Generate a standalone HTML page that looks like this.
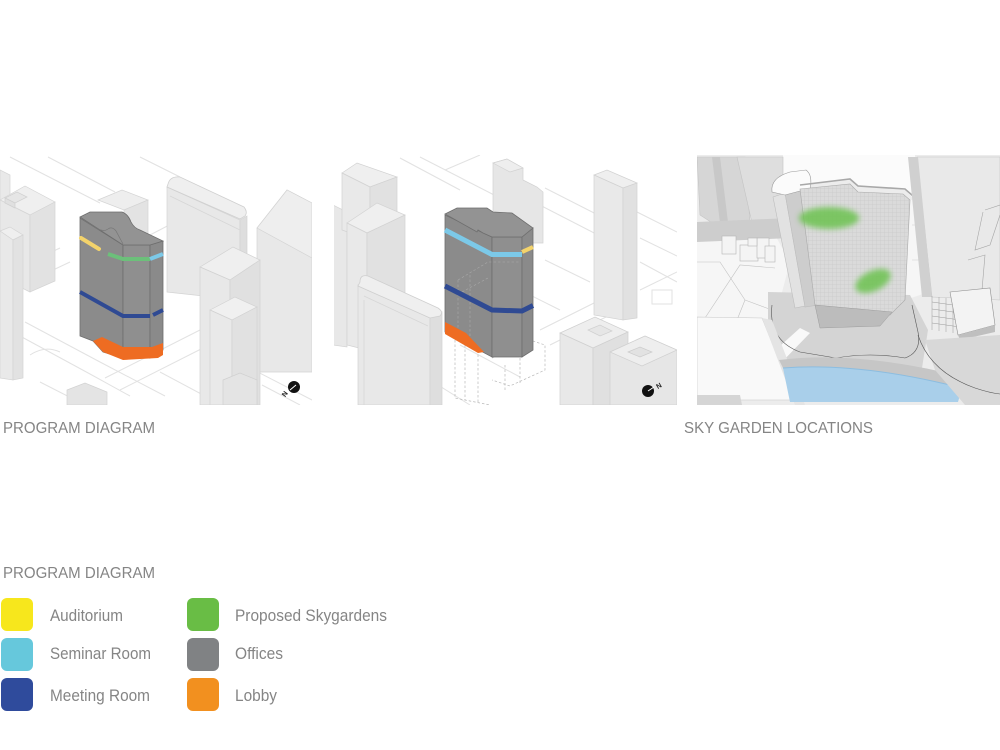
<!DOCTYPE html>
<html><head><meta charset="utf-8"><style>
html,body{margin:0;padding:0;background:#fff;}
svg{display:block;}
text{font-family:"Liberation Sans",sans-serif;fill:#858585;}
</style></head><body>
<svg width="1000" height="750" viewBox="0 0 1000 750" xmlns="http://www.w3.org/2000/svg">
<defs>
<clipPath id="c1"><rect x="0" y="155" width="312" height="250"/></clipPath>
<clipPath id="c2"><rect x="334" y="155" width="343" height="250"/></clipPath>
<clipPath id="c3"><rect x="697" y="155" width="303" height="250"/></clipPath>
<pattern id="grid" width="4" height="4" patternUnits="userSpaceOnUse">
<rect width="4" height="4" fill="#dadada"/>
<path d="M0 0H4M0 0V4" stroke="#c4c4c4" stroke-width="0.5"/>
</pattern>
<filter id="bl" x="-50%" y="-50%" width="200%" height="200%"><feGaussianBlur stdDeviation="3"/></filter>
</defs>

<!-- PANEL 1 -->
<g clip-path="url(#c1)">
<g stroke="#e2e2e2" stroke-width="1" fill="none">
<path d="M10,157 L100,203"/><path d="M48,157 L115,192"/><path d="M140,157 L180,177"/>
<path d="M60,248 L0,276"/><path d="M70,262 L0,295"/>
<path d="M25,322 L100,362 L165,396"/><path d="M20,336 L90,374 L130,396"/>
<path d="M40,382 L85,405"/><path d="M105,378 L200,330"/><path d="M120,390 L205,347"/>
<path d="M160,372 L205,396"/><path d="M250,368 L312,400"/><path d="M262,385 L300,405"/>
<path d="M150,235 L175,222"/><path d="M30,355 Q45,345 60,352"/>
<path d="M245,345 L312,312"/><path d="M250,330 L312,300"/>
</g>
<polygon points="0,170 10,175 10,228 0,228" fill="#e9e9e9" stroke="#d6d6d6" stroke-width="0.7"/>
<polygon points="0,200 25,186 55,202 30,215" fill="#efefef" stroke="#d4d4d4" stroke-width="0.7"/>
<polygon points="0,200 30,215 30,292 0,277" fill="#e8e8e8" stroke="#d4d4d4" stroke-width="0.7"/>
<polygon points="30,215 55,202 55,281 30,292" fill="#e2e2e2" stroke="#d4d4d4" stroke-width="0.7"/>
<polygon points="5,198 17,192 27,197 15,203" fill="#e6e6e6" stroke="#d0d0d0" stroke-width="0.7"/>
<polygon points="5,198 15,203 15,208 5,203" fill="#e0e0e0" stroke="#d0d0d0" stroke-width="0.7"/>
<polygon points="0,231 10,227 23,235 13,240" fill="#efefef" stroke="#d4d4d4" stroke-width="0.7"/>
<polygon points="0,231 13,240 13,380 0,378" fill="#e9e9e9" stroke="#d4d4d4" stroke-width="0.7"/>
<polygon points="13,240 23,235 23,378 13,380" fill="#e2e2e2" stroke="#d4d4d4" stroke-width="0.7"/>
<polygon points="98,200 122,190 148,200 124,210" fill="#eeeeee" stroke="#d4d4d4" stroke-width="0.7"/>
<polygon points="124,210 148,200 148,260 124,270" fill="#e3e3e3" stroke="#d4d4d4" stroke-width="0.7"/>
<polygon points="167,187 240,220 240,300 167,292" fill="#e8e8e8" stroke="#d4d4d4" stroke-width="0.7"/>
<polygon points="240,220 247,216 247,300 240,300" fill="#dedede" stroke="#d4d4d4" stroke-width="0.7"/>
<path d="M168,184 Q170,176 180,177 L244,207 Q248,212 245,216 L240,219 L167,187 Z" fill="#efefef" stroke="#d0d0d0" stroke-width="0.8"/>
<path d="M170,196 L240,230" stroke="#d6d6d6" stroke-width="0.8"/>
<polygon points="257,228 287,190 312,203 312,372 257,372" fill="#e8e8e8" stroke="#d4d4d4" stroke-width="0.7"/>
<polygon points="257,228 287,190 312,203 312,258" fill="#eeeeee" stroke="#d4d4d4" stroke-width="0.7"/>
<polygon points="200,267 233,247 260,260 230,280" fill="#efefef" stroke="#d2d2d2" stroke-width="0.7"/>
<polygon points="200,267 230,280 230,405 200,405" fill="#e8e8e8" stroke="#d2d2d2" stroke-width="0.7"/>
<polygon points="230,280 260,260 260,405 230,405" fill="#e0e0e0" stroke="#d2d2d2" stroke-width="0.7"/>
<polygon points="210,310 235,297 257,307 232,320" fill="#f0f0f0" stroke="#d2d2d2" stroke-width="0.7"/>
<polygon points="210,310 232,320 232,405 210,405" fill="#e9e9e9" stroke="#d2d2d2" stroke-width="0.7"/>
<polygon points="232,320 257,307 257,405 232,405" fill="#e1e1e1" stroke="#d2d2d2" stroke-width="0.7"/>
<polygon points="223,380 240,373 257,380 257,405 223,405" fill="#e4e4e4" stroke="#d0d0d0" stroke-width="0.7"/>
<polygon points="67,390 85,383 107,392 107,405 67,405" fill="#e4e4e4" stroke="#d2d2d2" stroke-width="0.7"/>
<!-- MAIN BUILDING 1 -->
<polygon points="80,218 123,245 123,358 103,352 93,341 80,336" fill="#8b8b8b" stroke="#6e6e6e" stroke-width="0.8"/>
<polygon points="123,245 150,245 150,358 123,358" fill="#8f8f8f" stroke="#6e6e6e" stroke-width="0.8"/>
<polygon points="150,245 163,241 163,350 150,358" fill="#8a8a8a" stroke="#6e6e6e" stroke-width="0.8"/>
<path d="M80,217 L90,212 L122,212 Q128,214 131,222 Q134,228 140,230 L163,241 L150,245 L123,245 Z" fill="#939393" stroke="#6e6e6e" stroke-width="0.8"/>
<path d="M82,219 L98,229 Q104,232 108,229 Q112,226 116,231 L123,244" stroke="#777" stroke-width="0.7" fill="none"/>
<path d="M81,238 L99,249" stroke="#f3d36b" stroke-width="4" stroke-linecap="round"/>
<path d="M108,254 L123,259 L150,259" stroke="#6cc07a" stroke-width="4" fill="none"/>
<path d="M150,259 L163,254" stroke="#7cc9e8" stroke-width="4"/>
<path d="M80,292 L123,316 L150,316" stroke="#2f4a93" stroke-width="4" fill="none"/>
<path d="M153,315 L163,310" stroke="#2f4a93" stroke-width="4"/>
<polygon points="93,341 102,337 123,347 152,347 163,343 163,355 158,358 123,360 103,352" fill="#ee6c22"/>
<circle cx="294" cy="387" r="6" fill="#111"/>
<path d="M290,390 L296,385" stroke="#fff" stroke-width="1"/>
<text x="282" y="397" font-size="7" font-weight="bold" transform="rotate(-55 284 394)" style="fill:#222">N</text>
</g>

<!-- PANEL 2 -->
<g clip-path="url(#c2)">
<g stroke="#e2e2e2" stroke-width="1" fill="none">
<path d="M400,158 L460,190"/><path d="M420,157 L500,198"/><path d="M530,200 L600,236"/>
<path d="M545,188 L600,216"/><path d="M637,212 L677,232"/><path d="M640,238 L677,256"/>
<path d="M640,262 L677,282"/><path d="M490,275 L560,310"/><path d="M545,260 L590,282"/>
<path d="M460,345 L520,377"/><path d="M540,330 L600,300"/><path d="M550,345 L610,315"/>
<path d="M640,290 L677,272"/><path d="M445,170 L480,155"/><path d="M430,380 L470,405"/>
<rect x="652" y="290" width="20" height="14"/><rect x="600" y="255" width="30" height="16" transform="rotate(25 615 263)"/>
</g>
<polygon points="333,205 347,212 347,347 333,345" fill="#e8e8e8" stroke="#d4d4d4" stroke-width="0.7"/>
<polygon points="342,173 357,163 397,177 370,187" fill="#efefef" stroke="#d2d2d2" stroke-width="0.7"/>
<polygon points="342,173 370,187 370,240 342,230" fill="#e9e9e9" stroke="#d2d2d2" stroke-width="0.7"/>
<polygon points="370,187 397,177 397,230 370,240" fill="#e1e1e1" stroke="#d2d2d2" stroke-width="0.7"/>
<polygon points="347,223 377,203 405,215 367,233" fill="#efefef" stroke="#d2d2d2" stroke-width="0.7"/>
<polygon points="347,223 367,233 367,350 347,345" fill="#e9e9e9" stroke="#d2d2d2" stroke-width="0.7"/>
<polygon points="367,233 405,215 405,340 367,350" fill="#e1e1e1" stroke="#d2d2d2" stroke-width="0.7"/>
<polygon points="493,163 507,159 523,168 523,180 537,187 543,192 543,243 493,243" fill="#e6e6e6" stroke="#d2d2d2" stroke-width="0.7"/>
<polygon points="493,163 507,159 523,168 510,172" fill="#eeeeee" stroke="#d2d2d2" stroke-width="0.7"/>
<polygon points="358,285 430,318 430,405 358,405" fill="#e8e8e8" stroke="#d2d2d2" stroke-width="0.7"/>
<polygon points="430,318 442,312 442,405 430,405" fill="#dedede" stroke="#d2d2d2" stroke-width="0.7"/>
<path d="M360,282 Q360,274 368,276 L438,308 Q444,312 440,316 L430,318 L358,286 Z" fill="#efefef" stroke="#cfcfcf" stroke-width="0.8"/>
<path d="M364,296 L428,326 M364,300 L364,405" stroke="#d6d6d6" stroke-width="0.8" fill="none"/>
<polygon points="594,175 607,170 637,183 623,188" fill="#efefef" stroke="#d2d2d2" stroke-width="0.7"/>
<polygon points="594,175 623,188 623,320 594,315" fill="#e9e9e9" stroke="#d2d2d2" stroke-width="0.7"/>
<polygon points="623,188 637,183 637,318 623,320" fill="#e1e1e1" stroke="#d2d2d2" stroke-width="0.7"/>
<polygon points="560,333 595,317 628,332 593,348" fill="#eeeeee" stroke="#d0d0d0" stroke-width="0.7"/>
<polygon points="560,333 593,348 593,405 560,405" fill="#e8e8e8" stroke="#d0d0d0" stroke-width="0.7"/>
<polygon points="593,348 628,332 628,405 593,405" fill="#e0e0e0" stroke="#d0d0d0" stroke-width="0.7"/>
<polygon points="588,330 600,325 612,331 600,336" fill="#e6e6e6" stroke="#d0d0d0" stroke-width="0.7"/>
<polygon points="610,352 645,336 677,350 677,405 610,405" fill="#e6e6e6" stroke="#d0d0d0" stroke-width="0.7"/>
<polygon points="610,352 645,336 677,350 642,366" fill="#eeeeee" stroke="#d0d0d0" stroke-width="0.7"/>
<polygon points="628,352 640,347 652,352 640,357" fill="#e2e2e2" stroke="#cccccc" stroke-width="0.7"/>
<g stroke="#b9b9b9" stroke-width="0.7" fill="none" stroke-dasharray="2.5,2">
<path d="M455,340 L455,398 L490,405"/><path d="M465,345 L465,400"/><path d="M478,350 L478,402"/>
<path d="M492,358 L530,340 L545,345 L545,370 L510,386 L492,380"/>
<path d="M505,365 L505,390 M520,358 L520,384"/>
</g>
<polygon points="445,215 492,237 492,357 445,332" fill="#8b8b8b" stroke="#6e6e6e" stroke-width="0.8"/>
<polygon points="492,237 522,237 522,357 492,357" fill="#8f8f8f" stroke="#6e6e6e" stroke-width="0.8"/>
<polygon points="522,237 533,228 533,350 522,357" fill="#8a8a8a" stroke="#6e6e6e" stroke-width="0.8"/>
<path d="M445,214 L457,208 L487,208 L493,212 L512,213 L533,228 L522,237 L492,237 L483,233 L478,230 L477,232 Z" fill="#939393" stroke="#6e6e6e" stroke-width="0.8"/>
<g stroke="#a9a9a9" stroke-width="0.6" fill="none" stroke-dasharray="2.5,2">
<path d="M458,280 L488,262 L520,262"/><path d="M458,280 L458,340"/><path d="M470,275 L470,345"/><path d="M462,292 L488,278"/>
</g>
<path d="M445,230 L492,254.5 L522,254.5" stroke="#7cc9e8" stroke-width="5" fill="none"/>
<path d="M522,252 L533,247" stroke="#f3d36b" stroke-width="4"/>
<path d="M445,286 L492,310 L522,311 L533,305.5" stroke="#2f4a93" stroke-width="5" fill="none"/>
<polygon points="445,322 466,333 484,352 478,353 445,334" fill="#ee6c22"/>
<circle cx="648" cy="391" r="6" fill="#111"/>
<path d="M648,391 L654,387" stroke="#fff" stroke-width="1"/>
<text x="656" y="388" font-size="7" font-weight="bold" transform="rotate(-30 659 385)" style="fill:#222">N</text>
</g>

<!-- PANEL 3 -->
<g clip-path="url(#c3)">
<rect x="697" y="155" width="303" height="250" fill="#ececec"/>
<!-- sky / white areas -->
<polygon points="783,155 915,155 915,200 905,190 858,185 850,180 800,185 783,190" fill="#fbfbfb"/>
<polygon points="910,200 925,200 935,290 905,300" fill="#f6f6f6"/>
<path d="M912,225 L930,225 M912,260 L932,260" stroke="#cfcfcf" stroke-width="0.6"/>
<polygon points="697,238 775,235 790,262 772,330 697,330" fill="#f6f6f6"/>
<g stroke="#c2c2c2" stroke-width="0.6" fill="none">
<path d="M697,262 L720,262 L745,300 L735,325"/><path d="M705,318 L740,265 L775,268"/>
<path d="M745,300 L772,310"/>
</g>
<polygon points="697,157 745,157 750,222 717,226 700,215" fill="#d6d6d6" stroke="#c4c4c4" stroke-width="0.6"/>
<polygon points="737,157 783,157 783,222 752,223" fill="#dedede" stroke="#c4c4c4" stroke-width="0.6"/>
<polygon points="712,157 720,157 728,222 720,223" fill="#c8c8c8"/>
<polygon points="697,222 790,218 792,238 697,242" fill="#cdcdcd"/>
<g fill="#f4f4f4" stroke="#b5b5b5" stroke-width="0.6">
<rect x="722" y="236" width="14" height="18"/><rect x="740" y="245" width="18" height="16"/>
<rect x="757" y="238" width="12" height="20"/><rect x="765" y="246" width="10" height="16"/>
<rect x="748" y="238" width="9" height="8"/>
</g>
<polygon points="768,292 910,295 928,330 922,368 790,364 768,342" fill="#d4d4d4"/>
<polygon points="770,355 800,328 810,333 780,364" fill="#f9f9f9"/>
<path d="M772,305 Q768,340 800,352 L836,358 Q870,352 905,358 Q922,352 918,332 L912,305" stroke="#555" stroke-width="0.6" fill="none"/>
<polygon points="773,197 785,193 805,306 795,308" fill="#e2e2e2" stroke="#bdbdbd" stroke-width="0.6"/>
<polygon points="785,193 800,189 818,305 805,307" fill="#cdcdcd" stroke="#bdbdbd" stroke-width="0.6"/>
<path d="M772,192 Q770,178 790,172 L806,170 Q813,175 810,190 L800,191 L785,195 Z" fill="#fbfbfb" stroke="#9a9a9a" stroke-width="0.6"/>
<polygon points="800,189 850,184 858,192 903,194 910,200 905,300 890,315 822,318 815,305" fill="url(#grid)" stroke="#aaaaaa" stroke-width="0.6"/>
<path d="M800,185 L850,179 L858,186 L905,189 L913,196" stroke="#a8a8a8" stroke-width="1.6" fill="none"/>
<polygon points="815,305 892,312 880,326 820,328" fill="#bcbcbc" stroke="#9c9c9c" stroke-width="0.5"/>
<ellipse cx="829" cy="218" rx="30" ry="11" fill="#6cc24f" opacity="0.85" filter="url(#bl)"/>
<ellipse cx="873" cy="281" rx="19" ry="10" fill="#6cc24f" opacity="0.85" transform="rotate(-25 873 281)" filter="url(#bl)"/>
<polygon points="697,317 762,318 795,400 697,400" fill="#f9f9f9" stroke="#c7c7c7" stroke-width="0.6"/>
<polygon points="762,318 772,320 805,405 795,405" fill="#e4e4e4"/>
<polygon points="697,395 740,395 742,405 697,405" fill="#d5d5d5"/>
<path d="M779,360 Q860,350 968,378 L962,388 Q860,362 783,368 Z" fill="#c6c6c6"/>
<path d="M783,368 Q860,362 962,388 L958,402 L790,402 Z" fill="#a9cfea"/>
<path d="M783,368 Q860,362 962,388" stroke="#8cbde0" stroke-width="1" fill="none"/>
<polygon points="917,157 1000,157 1000,300 932,297" fill="#e9e9e9" stroke="#c6c6c6" stroke-width="0.6"/>
<polygon points="908,157 918,157 932,297 922,297" fill="#d0d0d0"/>
<g stroke="#a5a5a5" stroke-width="0.6" fill="none">
<path d="M985,210 L1000,205 M983,212 L975,250 L990,245 L1000,215"/>
<path d="M968,260 L985,255 L982,290"/>
</g>
<g stroke="#9a9a9a" stroke-width="0.5">
<path d="M932,296 L932,330 M939,297 L939,331 M946,298 L946,332 M953,299 L953,333 M960,300 L960,334"/>
<path d="M932,302 L960,306 M932,309 L960,313 M932,316 L960,320 M932,323 L960,327"/>
</g>
<polygon points="950,292 990,288 995,325 958,335" fill="#f3f3f3" stroke="#8f8f8f" stroke-width="0.6"/>
<polygon points="958,335 995,325 995,332 960,340" fill="#bfbfbf"/>
<polygon points="925,340 1000,335 1000,405 965,405 935,370" fill="#d8d8d8"/>
<path d="M918,335 Q930,372 975,388 Q990,393 1000,394" stroke="#555" stroke-width="0.6" fill="none"/>
</g>

<text x="3" y="433" font-size="16" textLength="152" lengthAdjust="spacingAndGlyphs">PROGRAM DIAGRAM</text>
<text x="684" y="433" font-size="16" textLength="189" lengthAdjust="spacingAndGlyphs">SKY GARDEN LOCATIONS</text>
<text x="3" y="578" font-size="16" textLength="152" lengthAdjust="spacingAndGlyphs">PROGRAM DIAGRAM</text>

<rect x="1" y="598" width="32" height="33" rx="6" fill="#f7e71c"/>
<rect x="1" y="638" width="32" height="33" rx="6" fill="#66c8dc"/>
<rect x="1" y="678" width="32" height="33" rx="6" fill="#2f4b9c"/>
<rect x="187" y="598" width="32" height="33" rx="6" fill="#69bd45"/>
<rect x="187" y="638" width="32" height="33" rx="6" fill="#808284"/>
<rect x="187" y="678" width="32" height="33" rx="6" fill="#f2901f"/>
<text x="50" y="621" font-size="16.5" textLength="73" lengthAdjust="spacingAndGlyphs">Auditorium</text>
<text x="50" y="659" font-size="16.5" textLength="101" lengthAdjust="spacingAndGlyphs">Seminar Room</text>
<text x="50" y="701" font-size="16.5" textLength="100" lengthAdjust="spacingAndGlyphs">Meeting Room</text>
<text x="235" y="621" font-size="16.5" textLength="152" lengthAdjust="spacingAndGlyphs">Proposed Skygardens</text>
<text x="235" y="659" font-size="16.5" textLength="48" lengthAdjust="spacingAndGlyphs">Offices</text>
<text x="235" y="701" font-size="16.5" textLength="42" lengthAdjust="spacingAndGlyphs">Lobby</text>
</svg>
</body></html>
